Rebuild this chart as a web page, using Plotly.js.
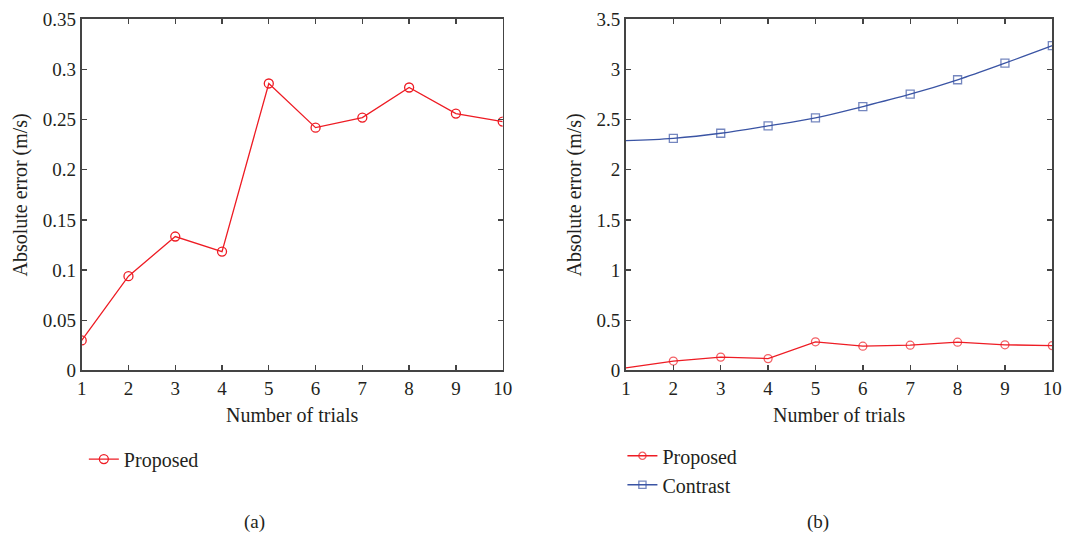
<!DOCTYPE html>
<html>
<head>
<meta charset="utf-8">
<script src="https://cdn.plot.ly/plotly-3.0.1.min.js"></script>
<style>html,body{margin:0;padding:0;background:#fff;}#chart{width:1075px;height:535px;}</style>
</head>
<body>
<div id="chart"></div>
<script>
const trials = [1, 2, 3, 4, 5, 6, 7, 8, 9, 10];
const proposedA = [0.030, 0.094, 0.1335, 0.1185, 0.286, 0.242, 0.252, 0.282, 0.256, 0.248];
const proposedB = [0.026, 0.094, 0.1335, 0.1185, 0.286, 0.242, 0.252, 0.282, 0.256, 0.248];
const contrastB = [2.29, 2.314, 2.364, 2.437, 2.517, 2.63, 2.753, 2.897, 3.063, 3.237];
const yTicksA = [0, 0.05, 0.1, 0.15, 0.2, 0.25, 0.3, 0.35];
const yTickTextA = ['0', '0.05', '0.1', '0.15', '0.2', '0.25', '0.3', '0.35'];
const yTicksB = [0, 0.5, 1, 1.5, 2, 2.5, 3, 3.5];
const yTickTextB = ['0', '0.5', '1', '1.5', '2', '2.5', '3', '3.5'];
const xTitle = 'Number of trials';
const yTitle = 'Absolute error (m/s)';

const RED = '#ee1c24';
const BLUE = '#3a54a4';
const FONT = 'Liberation Serif, Times New Roman, serif';
const TXT = '#231f20';

const sizesB = trials.map((t, i) => i === 0 ? 0 : 8);

const traces = [
  {x: trials, y: proposedA, xaxis: 'x', yaxis: 'y', mode: 'lines+markers', name: 'Proposed', legend: 'legend',
   line: {color: RED, width: 1.3}, marker: {symbol: 'circle-open', size: 9, color: RED, line: {width: 1.3}}},
  {x: trials, y: proposedB, xaxis: 'x2', yaxis: 'y2', mode: 'lines+markers', name: 'Proposed', legend: 'legend2',
   line: {color: RED, width: 1.3}, marker: {symbol: 'circle-open', size: sizesB, color: RED, line: {width: 1.3}}},
  {x: trials, y: contrastB, xaxis: 'x2', yaxis: 'y2', mode: 'lines+markers', name: 'Contrast', legend: 'legend2',
   line: {color: BLUE, width: 1.3, shape: 'spline'}, marker: {symbol: 'square-open', size: sizesB, color: BLUE, line: {width: 1.3}}}
];

const axisCommon = {
  showline: true, linecolor: '#444', linewidth: 1.8, mirror: 'ticks',
  ticks: 'inside', ticklen: 5, tickcolor: '#444', tickwidth: 1.4,
  showgrid: false, zeroline: false,
  tickfont: {family: FONT, size: 19, color: TXT}
};

const titleFont = {family: FONT, size: 20, color: TXT};

const layout = {
  width: 1075, height: 535,
  margin: {l: 0, r: 0, t: 0, b: 0},
  paper_bgcolor: '#fff', plot_bgcolor: '#fff',
  font: {family: FONT, color: TXT},
  showlegend: true,
  xaxis: Object.assign({}, axisCommon, {domain: [0.076, 0.4676], range: [1, 10], tickvals: trials, anchor: 'y',
    title: {text: xTitle, font: titleFont, standoff: 10}}),
  yaxis: Object.assign({}, axisCommon, {domain: [0.3075, 0.964], range: [0, 0.35], tickvals: yTicksA, ticktext: yTickTextA, anchor: 'x',
    title: {text: yTitle, font: titleFont, standoff: 10}}),
  xaxis2: Object.assign({}, axisCommon, {domain: [0.5823, 0.9789], range: [1, 10], tickvals: trials, anchor: 'y2',
    title: {text: xTitle, font: titleFont, standoff: 10}}),
  yaxis2: Object.assign({}, axisCommon, {domain: [0.3075, 0.964], range: [0, 3.5], tickvals: yTicksB, ticktext: yTickTextB, anchor: 'x2',
    title: {text: yTitle, font: titleFont, standoff: 10}}),
  legend: {x: 0.078, y: 0.142, xanchor: 'left', yanchor: 'middle', bgcolor: 'rgba(0,0,0,0)',
    font: {family: FONT, size: 20, color: TXT}, tracegroupgap: 0, itemwidth: 30},
  legend2: {x: 0.579, y: 0.121, xanchor: 'left', yanchor: 'middle', bgcolor: 'rgba(0,0,0,0)',
    font: {family: FONT, size: 20, color: TXT}, tracegroupgap: 0, itemwidth: 30},
  annotations: [
    {text: '(a)', xref: 'paper', yref: 'paper', x: 0.2372, y: 0.024, xanchor: 'center', yanchor: 'middle', showarrow: false,
     font: {family: FONT, size: 19, color: TXT}},
    {text: '(b)', xref: 'paper', yref: 'paper', x: 0.7605, y: 0.024, xanchor: 'center', yanchor: 'middle', showarrow: false,
     font: {family: FONT, size: 19, color: TXT}}
  ]
};

Plotly.newPlot('chart', traces, layout, {displayModeBar: false, staticPlot: true});
</script>
</body>
</html>
